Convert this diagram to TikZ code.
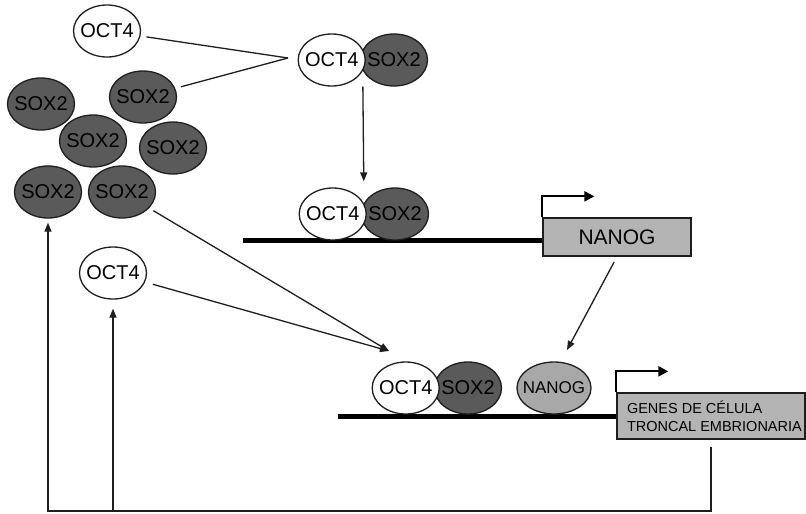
\documentclass[tikz,border=0pt]{standalone}
\usepackage{fontspec}
\setmainfont{Liberation Sans}
\usetikzlibrary{arrows.meta,positioning,shapes.geometric,calc}
\definecolor{tfDark}{RGB}{90,90,90}
\definecolor{tfLine}{RGB}{30,30,30}
\definecolor{geneGray}{RGB}{180,180,180}
\definecolor{nanogGray}{RGB}{168,168,168}

\begin{document}
\begin{tikzpicture}[x=1pt,y=-1pt,
    prot/.style={ellipse, draw=tfLine, line width=1.3pt, minimum width=67pt,
        minimum height=52pt, inner xsep=-5pt, inner ysep=0pt,
        font=\fontsize{20}{22}\selectfont},
    oct/.style={prot, fill=white},
    sox/.style={prot, fill=tfDark},
    link/.style={tfLine, line width=1.3pt},
    arr/.style={link, -{Triangle[length=9pt,width=7pt]}},
    dna/.style={black, line width=5pt},
    prom/.style={black, line width=2.2pt, -{Triangle[length=10pt,width=10pt]}},
    gene/.style={draw=tfLine, line width=1.3pt, fill=geneGray, inner sep=0pt}]
    \useasboundingbox (0,0) rectangle (806,514);

    % free proteins
    \node[oct] (oct1) at (107,31) {OCT4};
    \node[sox] (sox1) at (41,104) {SOX2};
    \node[sox] (sox2) at (143,97) {SOX2};
    \node[sox] (sox3) at (93,141) {SOX2};
    \node[sox] (sox4) at (173,148) {SOX2};
    \node[sox] (sox5) at (48,192) {SOX2};
    \node[sox] (sox6) at (122,192) {SOX2};
    \node[oct] (oct2) at (113,273) {OCT4};

    % OCT4-SOX2 complex
    \node[sox] (cxSox) at (394,60) {SOX2};
    \node[oct, left=-6pt of cxSox] (cxOct) {OCT4};
    \coordinate (meet) at (288,58);
    \draw[link, shorten <=6pt] (oct1) -- (meet);
    \draw[link, shorten <=6pt] (sox2) -- (meet);

    % NANOG promoter
    \coordinate (dnaA) at (243,240);
    \node[gene, minimum width=148pt, minimum height=38pt,
        font=\fontsize{21}{23}\selectfont] (nanogBox) at (617,237) {NANOG};
    \draw[dna] (dnaA) -- (dnaA -| nanogBox.west);
    \node[sox] (bSox) at (395,214) {SOX2};
    \node[oct, left=-6pt of bSox] (bOct) {OCT4};
    \draw[prom] (nanogBox.north west) -- ++(0,-21) -- ++(52,0);
    \draw[arr, shorten >=6pt]
        ($(cxOct.south)!0.5!(cxSox.south)$) -- ($(bOct.north)!0.5!(bSox.north)$);

    % target genes
    \coordinate (dnaB) at (338,416);
    \node[gene, minimum width=188pt, minimum height=46pt, align=flush left,
        text width=168pt, font=\fontsize{14.5}{18}\selectfont]
        (genesBox) at (711,416) {GENES DE CÉLULA\\\mbox{TRONCAL EMBRIONARIA}};
    \draw[dna] (dnaB) -- (dnaB -| genesBox.west);
    \node[sox] (gSox) at (468,388) {SOX2};
    \node[oct, left=-6pt of gSox] (gOct) {OCT4};
    \node[prot, fill=nanogGray, font=\fontsize{17}{19}\selectfont] (gNanog) at (554,388) {NANOG};
    \draw[prom] (genesBox.north west) -- ++(0,-21) -- ++(52,0);

    % inputs
    \coordinate (cxIn) at (389,351);
    \coordinate (nanogIn) at (567,350);
    \draw[arr, shorten <=5pt] (sox6) -- (cxIn);
    \draw[arr, shorten <=8pt] (oct2) -- (cxIn);
    \draw[arr, shorten <=6pt] (nanogBox.south) -- (nanogIn);

    % feedback
    \coordinate (fb) at (0,511);
    \draw[arr, shorten <=7pt, shorten >=4pt] (genesBox.south) -- (genesBox.south |- fb) -| (sox5);
    \draw[arr, shorten >=9pt] (oct2.south |- fb) -- (oct2.south);
\end{tikzpicture}
\end{document}
